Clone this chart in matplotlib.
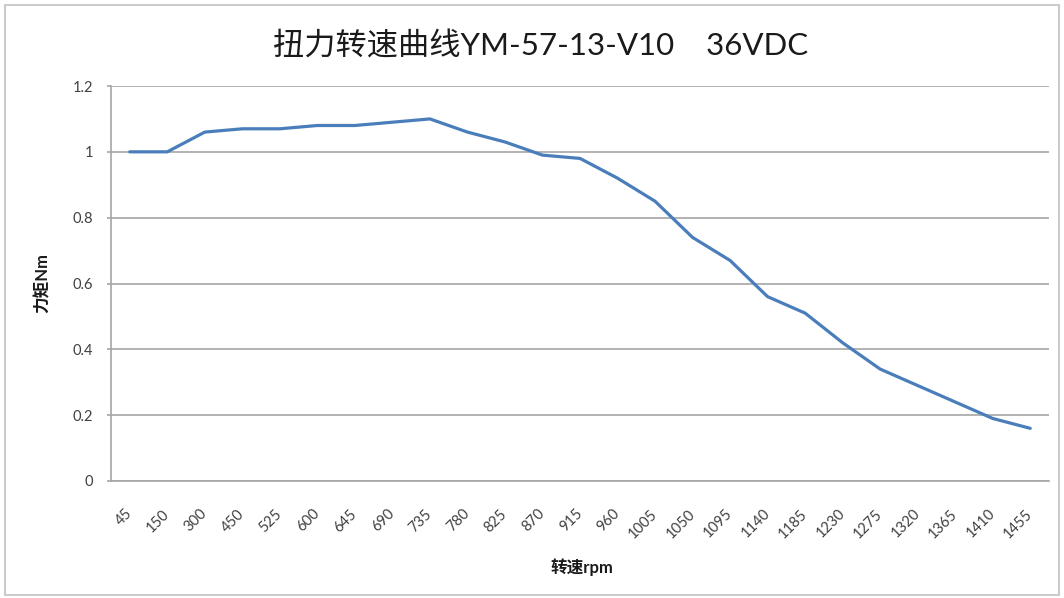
import matplotlib
matplotlib.use("Agg")
import matplotlib.pyplot as plt
from matplotlib.patches import Rectangle

speeds = ["45", "150", "300", "450", "525", "600", "645", "690", "735", "780",
          "825", "870", "915", "960", "1005", "1050", "1095", "1140", "1185",
          "1230", "1275", "1320", "1365", "1410", "1455"]
torque = [1.00, 1.00, 1.06, 1.07, 1.07, 1.08, 1.08, 1.09, 1.10, 1.06,
          1.03, 0.99, 0.98, 0.92, 0.85, 0.74, 0.67, 0.56, 0.51,
          0.42, 0.34, 0.29, 0.24, 0.19, 0.16]
yticks = [0, 0.2, 0.4, 0.6, 0.8, 1, 1.2]
ytick_labels = ["0", "0.2", "0.4", "0.6", "0.8", "1", "1.2"]
title = "扭力转速曲线YM-57-13-V10    36VDC"
xlabel = "转速rpm"
ylabel = "力矩Nm"

FAM = ["Lato", "Noto Sans CJK SC", "DejaVu Sans"]
plt.rcParams['font.family'] = FAM

W, H = 1064, 598
fig = plt.figure(figsize=(W / 100, H / 100), dpi=100)
fig.patch.set_facecolor("white")
# outer border
fig.patches.append(Rectangle((5 / W, 3 / H), (W - 10) / W, (H - 8) / H,
                             transform=fig.transFigure, fill=False,
                             edgecolor="#c0c0c0", linewidth=1.2))

left, right, top, bottom = 111, 1049, 86, 481
ax = fig.add_axes([left / W, 1 - bottom / H, (right - left) / W, (bottom - top) / H])

x = list(range(len(speeds)))
ax.plot(x, torque, color="#4a7ebb", linewidth=2.3, solid_joinstyle="round",
        solid_capstyle="round", zorder=3)

ax.set_xlim(-0.5, len(speeds) - 0.5)
ax.set_ylim(0, 1.2)
ax.set_yticks(yticks)
ax.set_yticklabels(ytick_labels)
ax.set_xticks(x)
ax.set_xticklabels(speeds, rotation=45, ha="right", va="center",
                   rotation_mode="anchor")

ax.yaxis.grid(True, color="#a6a6a6", linewidth=1.2)
ax.set_axisbelow(True)
for s in ["top", "right"]:
    ax.spines[s].set_visible(False)
for s in ["left", "bottom"]:
    ax.spines[s].set_color("#a6a6a6")
    ax.spines[s].set_linewidth(1.2)

ax.tick_params(axis="y", length=3, width=1.2, color="#a6a6a6",
               labelsize=10.5, labelcolor="#404040", pad=10)
ax.tick_params(axis="x", length=0, labelsize=10.5, labelcolor="#404040", pad=22)

fig.text(541 / W, 1 - 46 / H, title, ha="center", va="center",
         fontsize=22.5, color="#1a1a1a", family=FAM)
fig.text(582 / W, 1 - 567 / H, xlabel, ha="center", va="center",
         fontsize=12, fontweight="bold", color="#1a1a1a", family=FAM)
fig.text(43 / W, 1 - 283 / H, ylabel, ha="center", va="center", rotation=90,
         fontsize=12, fontweight="bold", color="#1a1a1a", family=FAM)

fig.savefig("out.png", dpi=100, facecolor="white")
